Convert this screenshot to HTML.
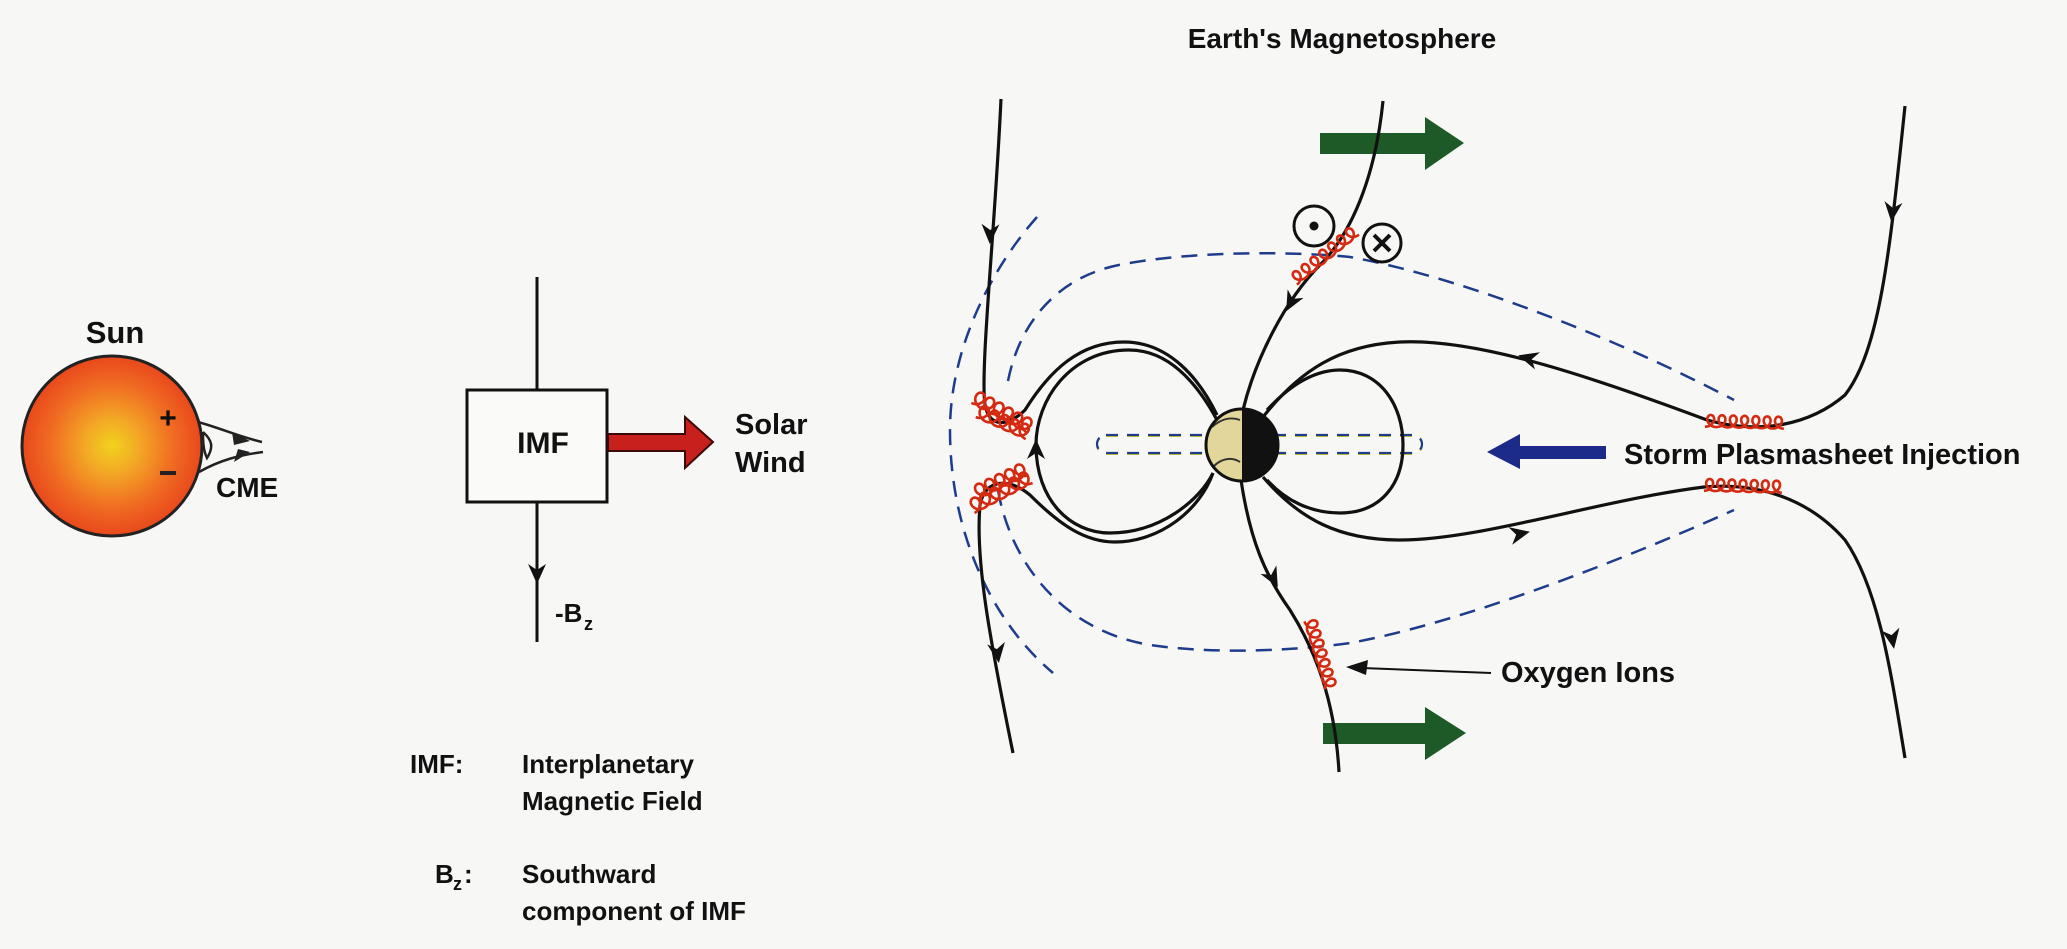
<!DOCTYPE html>
<html><head><meta charset="utf-8"><style>
html,body{margin:0;padding:0;background:#f7f7f5;}
svg{display:block;}
text{font-family:"Liberation Sans",Arial,sans-serif;font-weight:bold;fill:#111;}
</style></head><body>
<svg id="s" width="2067" height="949" viewBox="0 0 2067 949" xmlns="http://www.w3.org/2000/svg">
<defs>
<radialGradient id="sun" cx="0.5" cy="0.5" r="0.5">
<stop offset="0" stop-color="#f2d21e"/><stop offset="0.3" stop-color="#f3a826"/><stop offset="0.7" stop-color="#f06a22"/><stop offset="1" stop-color="#e8481c"/></radialGradient>
<path id="ah" d="M-14,-9 L6,0 L-14,9 L-8,0 Z" fill="#111"/>
</defs>
<rect width="2067" height="949" fill="#f7f7f5"/>

<!-- Sun -->
<text x="115" y="343" font-size="31" text-anchor="middle">Sun</text>
<circle cx="112" cy="446" r="90" fill="url(#sun)" stroke="#222" stroke-width="3"/>
<text x="168" y="428" font-size="30" text-anchor="middle">+</text>
<rect x="160" y="471" width="16" height="4" fill="#222"/>
<path d="M198,422 C220,428 240,437 262,442 M199,472 C220,460 240,455 263,452 M203,432 C212,440 214,447 207,458 C203,450 203,440 203,432" fill="none" stroke="#222" stroke-width="2.5"/>
<path d="M232,432 L250,441 L234,445 Z M234,462 L250,452 L238,449 Z" fill="#222"/>
<text x="216" y="497" font-size="28">CME</text>

<!-- IMF box -->
<line x1="537" y1="277" x2="537" y2="390" stroke="#111" stroke-width="3"/>
<line x1="537" y1="502" x2="537" y2="642" stroke="#111" stroke-width="3"/>
<use href="#ah" transform="translate(537,578) rotate(90)"/>
<rect x="467" y="390" width="140" height="112" fill="#fafaf8" stroke="#111" stroke-width="3"/>
<text x="543" y="453" font-size="30" text-anchor="middle">IMF</text>
<path d="M608,434 L685,434 L685,417 L713,442 L685,468 L685,451 L608,451 Z" fill="#c8201c" stroke="#3a0a08" stroke-width="2"/>
<text x="735" y="434" font-size="29">Solar</text>
<text x="735" y="472" font-size="29">Wind</text>
<text x="555" y="622" font-size="26">-B</text><text x="584" y="630" font-size="18">z</text>

<!-- legend -->
<text x="410" y="773" font-size="26">IMF:</text>
<text x="522" y="773" font-size="26">Interplanetary</text>
<text x="522" y="810" font-size="26">Magnetic Field</text>
<text x="435" y="883" font-size="26">B</text><text x="453" y="890" font-size="18">z</text><text x="464" y="883" font-size="26">:</text>
<text x="522" y="883" font-size="26">Southward</text>
<text x="522" y="920" font-size="26">component of IMF</text>

<!-- title -->
<text x="1342" y="48" font-size="28" text-anchor="middle">Earth's Magnetosphere</text>

<!-- dashed -->
<g fill="none" stroke="#1e3c8c" stroke-width="2.5" stroke-dasharray="16,10">
<path d="M1037,217 C990,270 950,350 950,430 C950,530 990,620 1053,673"/>
<path d="M1008,381 C1020,320 1060,275 1124,264 C1200,250 1300,252 1350,257 C1450,275 1600,330 1734,400"/>
<path d="M998,490 C1010,560 1060,630 1150,645 C1220,655 1300,650 1350,643 C1450,625 1600,570 1734,510"/>
</g>
<rect x="1097" y="435" width="325" height="18" rx="9" fill="none" stroke="#c8c830" stroke-width="2" stroke-dasharray="12,9" transform="translate(0,1)"/>
<rect x="1097" y="435" width="325" height="18" rx="9" fill="none" stroke="#1e3c8c" stroke-width="2.2" stroke-dasharray="12,9"/>

<!-- green arrows -->
<path d="M1320,133 L1425,133 L1425,117 L1464,143 L1425,170 L1425,154 L1320,154 Z" fill="#1e5a28"/>
<path d="M1323,723 L1425,723 L1425,707 L1466,733 L1425,760 L1425,744 L1323,744 Z" fill="#1e5a28"/>
<!-- blue arrow -->
<path d="M1606,446 L1520,446 L1520,434 L1487,452 L1520,469 L1520,459 L1606,459 Z" fill="#1c2a8a"/>
<text x="1624" y="464" font-size="29">Storm Plasmasheet Injection</text>
<text x="1501" y="682" font-size="29">Oxygen Ions</text>
<line x1="1491" y1="673" x2="1362" y2="668" stroke="#111" stroke-width="2"/>
<path d="M1346,667 L1368,660 L1366,675 Z" fill="#111"/>

<!-- field lines -->
<g fill="none" stroke="#111" stroke-width="3.2">
<path d="M1001,99 C995,230 980,370 985,405 C990,430 1010,425 1025,410 C1050,370 1080,342 1124,342 C1170,342 1200,380 1217,415"/>
<path d="M1217,420 C1190,370 1160,350 1129,350 C1070,350 1036,400 1036,445 C1036,500 1070,533 1110,533 C1160,533 1200,500 1213,473"/>
<path d="M980,505 C985,478 1010,478 1030,495 C1060,525 1085,542 1115,542 C1160,542 1200,510 1213,473"/>
<path d="M980,505 C975,560 990,640 1013,753"/>
<path d="M1383,101 C1375,180 1350,235 1320,265 C1285,300 1255,360 1243,410"/>
<path d="M1241,480 C1250,540 1265,575 1290,610 C1315,650 1335,700 1339,772"/>
<path d="M1267,410 C1290,385 1315,370 1340,370 C1380,370 1403,405 1403,445 C1403,485 1380,513 1340,513 C1310,513 1285,500 1267,480"/>
<path d="M1263,417 C1300,370 1340,345 1400,342 C1480,338 1600,380 1707,420 C1760,435 1810,425 1845,395 C1880,350 1890,250 1905,106"/>
<path d="M1263,477 C1300,520 1340,540 1400,540 C1480,540 1600,500 1704,487 C1760,482 1810,500 1845,540 C1880,590 1892,680 1905,758"/>
</g>
<use href="#ah" transform="translate(990,238) rotate(92)"/>
<use href="#ah" transform="translate(1036,445) rotate(-90)"/>
<use href="#ah" transform="translate(998,657) rotate(82)"/>
<use href="#ah" transform="translate(1289,306) rotate(118)"/>
<use href="#ah" transform="translate(1275,582) rotate(62)"/>
<use href="#ah" transform="translate(1524,357) rotate(196)"/>
<use href="#ah" transform="translate(1892,216) rotate(96)"/>
<use href="#ah" transform="translate(1524,533) rotate(-12)"/>
<use href="#ah" transform="translate(1893,643) rotate(80)"/>

<!-- top circles -->
<circle cx="1314" cy="226" r="20" fill="none" stroke="#111" stroke-width="3"/>
<circle cx="1314" cy="226" r="4.5" fill="#111"/>
<circle cx="1382" cy="243" r="19" fill="none" stroke="#111" stroke-width="3"/>
<path d="M1374,235 L1390,251 M1390,235 L1374,251" stroke="#111" stroke-width="4"/>

<!-- earth -->
<circle cx="1242" cy="445" r="36" fill="#111"/>
<path d="M1242,409 A36,36 0 0 0 1242,481 Z" fill="#e2d69a"/>
<path d="M1212,427 C1222,418 1232,417 1240,420 M1214,466 C1222,458 1232,457 1240,462" fill="none" stroke="#333" stroke-width="2"/>
<circle cx="1242" cy="445" r="36" fill="none" stroke="#111" stroke-width="3"/>

<g id="coils" fill="none" stroke="#d42a12" stroke-width="2.6"></g>
</svg>
<script>
(function(){
var g=document.getElementById('coils');
function coil(x1,y1,x2,y2,n,a){
 var dx=x2-x1,dy=y2-y1,L=Math.hypot(dx,dy),ux=dx/L,uy=dy/L,vx=-uy,vy=ux,d='';
 var N=n*24;
 for(var i=0;i<=N;i++){var t=i/N,th=2*Math.PI*n*t;
  var s=L*t+a*Math.sin(th),w=a*Math.cos(th)-a*0.2;
  var x=x1+ux*s+vx*w,y=y1+uy*s+vy*w;
  d+=(i?'L':'M')+x.toFixed(1)+','+y.toFixed(1);}
 var p=document.createElementNS('http://www.w3.org/2000/svg','path');p.setAttribute('d',d);g.appendChild(p);}
coil(974,398,1030,428,6,7);coil(978,412,1028,434,5,7);
coil(972,508,1030,478,6,7);coil(976,494,1026,470,5,7);
coil(1294,281,1356,231,7,6);
coil(1309,620,1330,688,7,6);
coil(1705,422,1784,424,7,6);
coil(1704,486,1782,488,7,6);
})();
</script>
</body></html>
